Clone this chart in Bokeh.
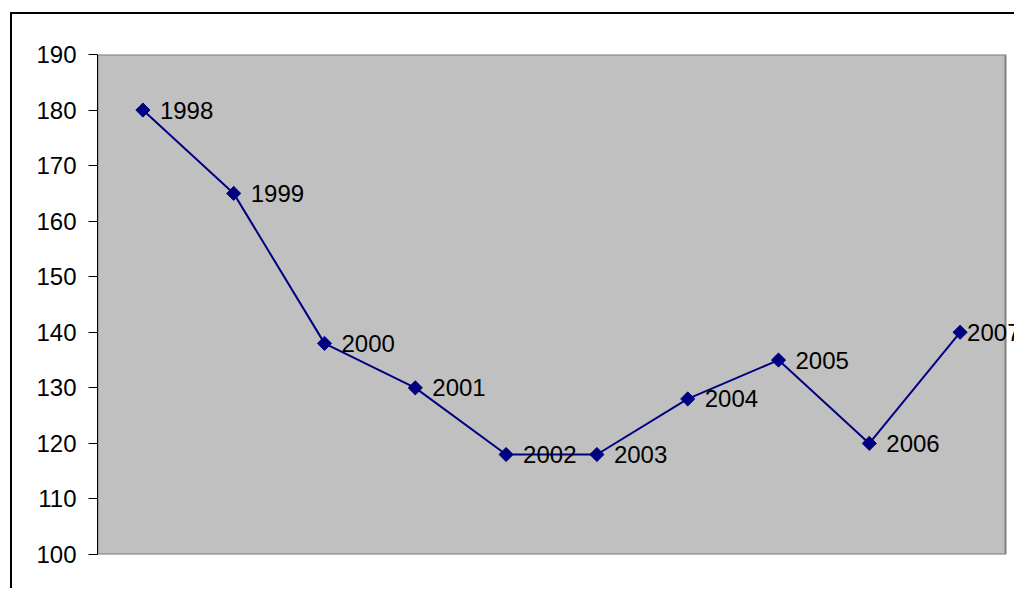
import math
from bokeh.plotting import figure
from bokeh.models import ColumnDataSource, Range1d, FixedTicker, LabelSet, BoxAnnotation
from bokeh.core.properties import value
from bokeh.embed import file_html
from bokeh.resources import INLINE

years = ["1998", "1999", "2000", "2001", "2002", "2003", "2004", "2005", "2006", "2007"]
values = [180, 165, 138, 130, 118, 118, 128, 135, 120, 140]
y_ticks = [100, 110, 120, 130, 140, 150, 160, 170, 180, 190]
y_min, y_max = 100, 190

n = len(years)
xpos = [i + 0.5 for i in range(n)]          # category centres
label_offsets = [17] * (n - 1) + [7]

src = ColumnDataSource(dict(x=xpos, y=values, lab=years, off=label_offsets))

canvas_w, left_border = 1004, 85
px_per_cat = 908 / n
x_end = (canvas_w - left_border) / px_per_cat

p = figure(width=canvas_w, height=576, x_range=Range1d(0, x_end),
           y_range=Range1d(y_min, y_max), output_backend="svg", toolbar_location=None)
p.styles = {"margin-left": "10px", "margin-top": "12px",
            "border-left": "2px solid black", "border-top": "2px solid black"}
p.min_border = 0
p.min_border_left = left_border
p.min_border_top = 40
p.min_border_bottom = 36
p.min_border_right = 0

p.background_fill_color = "white"
p.border_fill_color = "white"
p.outline_line_color = None
p.grid.visible = False
p.xaxis.visible = False

plot_area = BoxAnnotation(left=0, right=n, bottom=y_min, top=y_max, level="underlay",
                          fill_color="#C0C0C0", fill_alpha=1,
                          line_color="#808080", line_alpha=1, line_width=2)
p.add_layout(plot_area)

ya = p.yaxis[0]
ya.ticker = FixedTicker(ticks=y_ticks)
ya.axis_line_color = "black"
ya.axis_line_width = 1
ya.major_tick_out = 9
ya.major_tick_in = 0
ya.major_tick_line_color = "black"
ya.minor_tick_line_color = None
ya.major_label_standoff = 12
ya.major_label_text_font = "Liberation Sans"
ya.major_label_text_font_size = "24px"
ya.major_label_text_color = "black"

p.line("x", "y", source=src, line_color="#000080", line_width=2)
p.scatter("x", "y", source=src, marker="square", size=10, angle=math.pi / 4,
          fill_color="#000080", line_color="#000080", line_width=1)

labels = LabelSet(x="x", y="y", text="lab", source=src, x_offset="off", y_offset=0,
                  text_baseline="middle", text_align="left",
                  text_font=value("Liberation Sans"), text_font_size=value("24px"),
                  text_color="black")
p.add_layout(labels)

open("out.html", "w").write(file_html(p, INLINE))
